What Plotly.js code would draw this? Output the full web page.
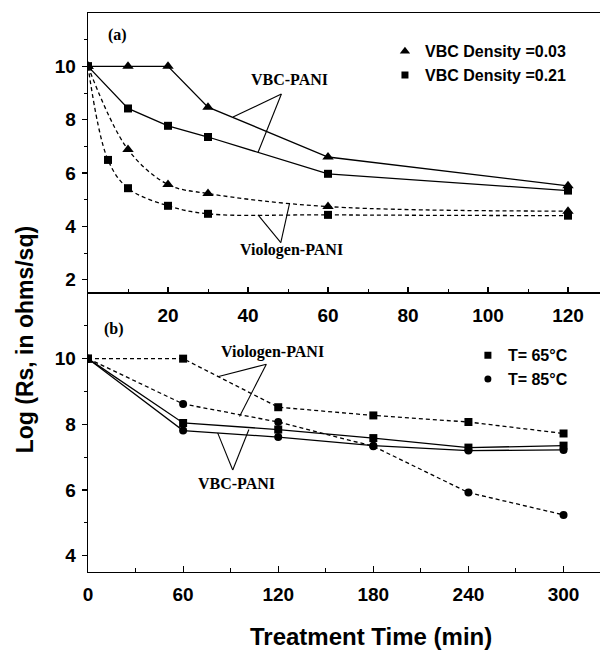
<!DOCTYPE html>
<html>
<head>
<meta charset="utf-8">
<script src="https://cdn.plot.ly/plotly-3.0.1.min.js"></script>
<style>html,body{margin:0;padding:0;background:#fff;}#chart{width:600px;height:652px;}</style>
</head>
<body>
<div id="chart"></div>
<script>
// ---- Panel (a): treatment time (min) ----
var aTime = [0, 10, 20, 30, 60, 120];
var aTimeV021 = [0, 5, 10, 20, 30, 60, 120];
var aVBC003 = [10, 10, 10, 8.47, 6.6, 5.52];
var aVBC021 = [10, 8.42, 7.77, 7.35, 5.97, 5.34];
var aViol003 = [10, 6.88, 5.57, 5.23, 4.74, 4.57];
var aViol021 = [10, 6.49, 5.43, 4.77, 4.47, 4.43, 4.40];

// ---- Panel (b): treatment time (min) ----
var bTime = [0, 60, 120, 180, 240, 300];
var bViol65 = [10, 10, 8.52, 8.27, 8.07, 7.72];
var bViol85 = [10, 8.62, 8.07, 7.33, 5.92, 5.24];
var bVBC65 = [10, 8.04, 7.84, 7.58, 7.29, 7.35];
var bVBC85 = [10, 7.81, 7.61, 7.35, 7.20, 7.22];

// ---- Tick labels ----
var aXTicks = [20, 40, 60, 80, 100, 120];
var aXMinor = [10, 30, 50, 70, 90, 110];
var aYTicks = [2, 4, 6, 8, 10];
var aYMinor = [3, 5, 7, 9, 11];
var bXTicks = [0, 60, 120, 180, 240, 300];
var bXMinor = [30, 90, 150, 210, 270];
var bYTicks = [4, 6, 8, 10];
var bYMinor = [5, 7, 9, 11];

// ---- Legend labels ----
var aLegend = ['VBC Density =0.03', 'VBC Density =0.21'];
var bLegend = ['T= 65\u00B0C', 'T= 85\u00B0C'];

var BLK = '#000';
var dashP = '4px,3px';
var TRI = 'triangle-up', SQ = 'square', CIR = 'circle';

function tr(x, y, xa, ya, sym, dash, size, shape) {
  return {
    x: x, y: y, xaxis: xa, yaxis: ya, mode: 'lines+markers', showlegend: false,
    line: {color: BLK, width: 1.3, dash: dash, shape: shape || 'linear', smoothing: 1},
    marker: {symbol: sym, size: size, color: BLK},
    hoverinfo: 'skip'
  };
}
function leg(name, sym, size, legendId) {
  return {
    x: [null], y: [null], mode: 'markers', name: name, legend: legendId,
    xaxis: legendId === 'legend' ? 'x2' : 'x', yaxis: legendId === 'legend' ? 'y2' : 'y',
    marker: {symbol: sym, size: size, color: BLK}
  };
}

var data = [
  tr(aTime, aVBC003, 'x2', 'y2', TRI, 'solid', 10),
  tr(aTime, aVBC021, 'x2', 'y2', SQ, 'solid', 8),
  tr(aTime, aViol003, 'x2', 'y2', TRI, dashP, 10, 'spline'),
  tr(aTimeV021, aViol021, 'x2', 'y2', SQ, dashP, 8, 'spline'),
  tr(bTime, bViol65, 'x', 'y', SQ, dashP, 8),
  tr(bTime, bViol85, 'x', 'y', CIR, dashP, 8),
  tr(bTime, bVBC65, 'x', 'y', SQ, 'solid', 8),
  tr(bTime, bVBC85, 'x', 'y', CIR, 'solid', 8),
  leg(aLegend[0], TRI, 9, 'legend'),
  leg(aLegend[1], SQ, 7, 'legend'),
  leg(bLegend[0], SQ, 7, 'legend2'),
  leg(bLegend[1], CIR, 7, 'legend2')
];

var tickFont = {family: 'Liberation Sans, Arial, sans-serif', size: 19, color: BLK, weight: 'bold'};
var serif = {family: 'Liberation Serif, Times New Roman, serif', size: 16, color: BLK, weight: 'bold'};
var legFont = {family: 'Liberation Sans, Arial, sans-serif', size: 16, color: BLK, weight: 'bold'};
var split = 0.4991;

function xAxis(anchor, range, ticks, minor) {
  return {
    anchor: anchor, range: range, tickmode: 'array', tickvals: ticks,
    ticks: 'inside', ticklen: 6, tickwidth: 1.2, tickcolor: BLK,
    minor: {tickmode: 'array', tickvals: minor, ticks: 'inside', ticklen: 4, tickwidth: 1, tickcolor: BLK},
    showline: true, linecolor: BLK, linewidth: 1.3, mirror: true,
    showgrid: false, zeroline: false, tickfont: tickFont, ticklabelstandoff: 5
  };
}
function yAxis(anchor, domain, range, ticks, minor) {
  return {
    anchor: anchor, domain: domain, range: range, tickmode: 'array', tickvals: ticks,
    ticks: 'outside', ticklen: 5, tickwidth: 1.2, tickcolor: BLK,
    minor: {tickmode: 'array', tickvals: minor, ticks: 'outside', ticklen: 3, tickwidth: 1, tickcolor: BLK},
    showline: true, linecolor: BLK, linewidth: 1.3,
    showgrid: false, zeroline: false, tickfont: tickFont, ticklabelstandoff: 2
  };
}

function seg(xr, yr, x0, y0, x1, y1) {
  return {type: 'line', xref: xr, yref: yr, x0: x0, y0: y0, x1: x1, y1: y1,
          line: {color: BLK, width: 1.1}};
}

var layout = {
  width: 600, height: 652,
  margin: {l: 88, r: 0, t: 13, b: 80},
  paper_bgcolor: '#fff', plot_bgcolor: '#fff',
  showlegend: true,
  xaxis: xAxis('y', [0, 323], bXTicks, bXMinor),
  yaxis: yAxis('x', [0, split], [3.5, 12], bYTicks, bYMinor),
  xaxis2: xAxis('y2', [0, 128], aXTicks, aXMinor),
  yaxis2: yAxis('x2', [split, 1], [1.5, 12], aYTicks, aYMinor),
  legend: {x: 0.58, y: 0.962, xanchor: 'left', yanchor: 'top', bgcolor: 'rgba(0,0,0,0)',
           font: legFont, tracegroupgap: 0, itemwidth: 30},
  legend2: {x: 0.742, y: 0.418, xanchor: 'left', yanchor: 'top', bgcolor: 'rgba(0,0,0,0)',
            font: legFont, tracegroupgap: 0, itemwidth: 30},
  annotations: [
    {text: '(a)', xref: 'x2', yref: 'y2', x: 7.4, y: 11.18, showarrow: false, font: serif},
    {text: 'VBC-PANI', xref: 'x2', yref: 'y2', x: 50.4, y: 9.49, showarrow: false, font: serif},
    {text: 'Viologen-PANI', xref: 'x2', yref: 'y2', x: 50.9, y: 3.12, showarrow: false, font: serif},
    {text: '(b)', xref: 'x', yref: 'y', x: 16.5, y: 10.9, showarrow: false, font: serif},
    {text: 'Viologen-PANI', xref: 'x', yref: 'y', x: 116.5, y: 10.19, showarrow: false, font: serif},
    {text: 'VBC-PANI', xref: 'x', yref: 'y', x: 93.7, y: 6.19, showarrow: false, font: serif},
    {text: 'Log (Rs, in ohms/sq)', xref: 'paper', yref: 'paper', x: -0.123, y: 0.4145,
     xanchor: 'center', yanchor: 'middle', textangle: -90, showarrow: false,
     font: {family: 'Liberation Sans, Arial, sans-serif', size: 23, color: BLK, weight: 'bold'}},
    {text: 'Treatment Time (min)', xref: 'paper', yref: 'paper', x: 0.553, y: -0.1145,
     xanchor: 'center', yanchor: 'middle', showarrow: false,
     font: {family: 'Liberation Sans, Arial, sans-serif', size: 24, color: BLK, weight: 'bold'}}
  ],
  shapes: [
    seg('x2', 'y2', 48.35, 8.96, 36.25, 8.10),
    seg('x2', 'y2', 48.35, 8.96, 42.5, 6.77),
    seg('x2', 'y2', 48.2, 3.39, 42.5, 4.43),
    seg('x2', 'y2', 48.2, 3.39, 50.4, 4.87),
    seg('x', 'y', 112.5, 9.83, 81.8, 9.45),
    seg('x', 'y', 112.5, 9.83, 95.6, 8.24),
    seg('x', 'y', 91.3, 6.61, 81.8, 7.74),
    seg('x', 'y', 91.3, 6.61, 101.5, 7.84)
  ]
};

Plotly.newPlot('chart', data, layout, {staticPlot: true, displayModeBar: false});
</script>
</body>
</html>
